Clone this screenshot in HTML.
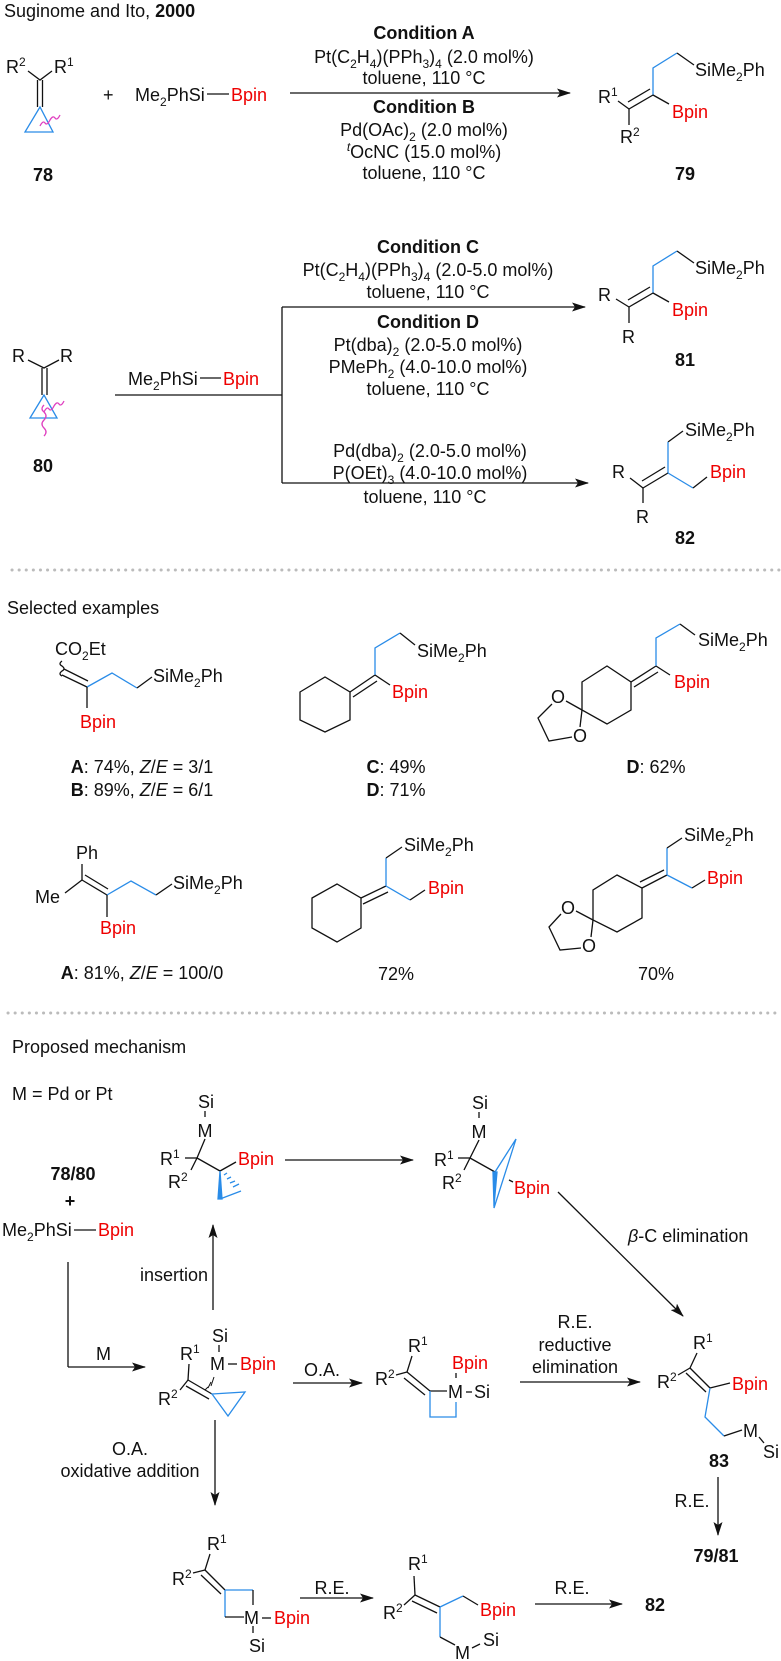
<!DOCTYPE html>
<html><head><meta charset="utf-8"><style>
html,body{margin:0;padding:0;background:#fff}
svg{display:block}
text{font-family:"Liberation Sans",Arial,sans-serif;font-size:18px;fill:#111}
.b{font-weight:bold}
.r{fill:#e00}
.c{text-anchor:middle}
.s{font-size:12px}
line,polyline,path,polygon{stroke:#111;stroke-width:1.3;fill:none}
.bl{stroke:#2a8ce8}
.pk{stroke:#e040c0}
.dot{stroke:#bbb;stroke-width:3;stroke-dasharray:0.1 7;stroke-linecap:round}
</style></head><body>
<svg width="781" height="1661" viewBox="0 0 781 1661" xmlns="http://www.w3.org/2000/svg">
<defs><marker id="a" markerWidth="14" markerHeight="9" refX="13" refY="4.5" orient="auto" markerUnits="userSpaceOnUse"><path d="M0,0 L14,4.5 L0,9 L3,4.5 Z" style="fill:#111;stroke:none"/></marker></defs>

<text x="4" y="17">Suginome and Ito, <tspan class="b">2000</tspan></text>

<!-- 78 -->
<text x="6" y="73">R<tspan class="s" dy="-7">2</tspan></text>
<text x="54" y="73">R<tspan class="s" dy="-7">1</tspan></text>
<polyline points="28,71 40,80 52,71"/>
<line x1="37.5" y1="80" x2="37.5" y2="107"/><line x1="42.5" y1="80" x2="42.5" y2="107"/>
<polygon class="bl" points="40,107 25,132 53,132"/>
<path class="pk" d="M40,126 q3,-6 5,-3 q2,3 5,-3 q3,-5 5,-2 q2,3 5,-3"/>
<text class="b c" x="43" y="181">78</text>
<text x="103" y="101">+</text>
<text x="135" y="101">Me<tspan class="s" dy="5">2</tspan><tspan dy="-5">PhSi</tspan></text>
<line x1="207" y1="94" x2="229" y2="94"/>
<text class="r" x="231" y="101">Bpin</text>
<line x1="290" y1="93" x2="570" y2="93" marker-end="url(#a)"/>
<text class="b c" x="424" y="39">Condition A</text>
<text class="c" x="424" y="63">Pt(C<tspan class="s" dy="5">2</tspan><tspan dy="-5">H</tspan><tspan class="s" dy="5">4</tspan><tspan dy="-5">)(PPh</tspan><tspan class="s" dy="5">3</tspan><tspan dy="-5">)</tspan><tspan class="s" dy="5">4</tspan><tspan dy="-5"> (2.0 mol%)</tspan></text>
<text class="c" x="424" y="84">toluene, 110 °C</text>
<text class="b c" x="424" y="113">Condition B</text>
<text class="c" x="424" y="136">Pd(OAc)<tspan class="s" dy="5">2</tspan><tspan dy="-5"> (2.0 mol%)</tspan></text>
<text class="c" x="424" y="158"><tspan class="s" dy="-7" font-style="italic">t</tspan><tspan dy="7">OcNC (15.0 mol%)</tspan></text>
<text class="c" x="424" y="179">toluene, 110 °C</text>

<!-- 79 -->
<polyline class="bl" points="653,95 653,68 677,53"/>
<line x1="677" y1="53" x2="694" y2="65"/>
<text x="695" y="76">SiMe<tspan class="s" dy="5">2</tspan><tspan dy="-5">Ph</tspan></text>
<line x1="653" y1="95" x2="629" y2="109"/><line x1="650" y1="89" x2="628" y2="102"/>
<text x="598" y="103">R<tspan class="s" dy="-7">1</tspan></text>
<line x1="618" y1="101" x2="629" y2="109"/>
<line x1="629" y1="109" x2="629" y2="125"/>
<text x="620" y="143">R<tspan class="s" dy="-7">2</tspan></text>
<line x1="653" y1="95" x2="669" y2="104"/>
<text class="r" x="672" y="118">Bpin</text>
<text class="b c" x="685" y="180">79</text>

<!-- 80 -->
<text x="12" y="362">R</text><text x="60" y="362">R</text>
<polyline points="28,360 44,368 59,360"/>
<line x1="42" y1="368" x2="42" y2="395"/><line x1="47" y1="368" x2="47" y2="395"/>
<polygon class="bl" points="44,395 30,418 57,418"/>
<path class="pk" d="M44,412 q3,-6 5,-3 q2,3 5,-3 q3,-5 5,-2 q2,3 5,-3"/>
<path class="pk" d="M44,405 q-4,4 0,7 q4,4 0,8 q-4,4 0,8 q4,4 0,8"/>
<text class="b c" x="43" y="472">80</text>
<text x="128" y="385">Me<tspan class="s" dy="5">2</tspan><tspan dy="-5">PhSi</tspan></text>
<line x1="200" y1="378" x2="221" y2="378"/>
<text class="r" x="223" y="385">Bpin</text>
<line x1="115" y1="395" x2="282" y2="395"/>
<line x1="282" y1="307" x2="282" y2="483"/>
<line x1="282" y1="307" x2="585" y2="307" marker-end="url(#a)"/>
<line x1="282" y1="483" x2="588" y2="483" marker-end="url(#a)"/>
<text class="b c" x="428" y="253">Condition C</text>
<text class="c" x="428" y="276">Pt(C<tspan class="s" dy="5">2</tspan><tspan dy="-5">H</tspan><tspan class="s" dy="5">4</tspan><tspan dy="-5">)(PPh</tspan><tspan class="s" dy="5">3</tspan><tspan dy="-5">)</tspan><tspan class="s" dy="5">4</tspan><tspan dy="-5"> (2.0-5.0 mol%)</tspan></text>
<text class="c" x="428" y="298">toluene, 110 °C</text>
<text class="b c" x="428" y="328">Condition D</text>
<text class="c" x="428" y="351">Pt(dba)<tspan class="s" dy="5">2</tspan><tspan dy="-5"> (2.0-5.0 mol%)</tspan></text>
<text class="c" x="428" y="373">PMePh<tspan class="s" dy="5">2</tspan><tspan dy="-5"> (4.0-10.0 mol%)</tspan></text>
<text class="c" x="428" y="395">toluene, 110 °C</text>
<text class="c" x="430" y="457">Pd(dba)<tspan class="s" dy="5">2</tspan><tspan dy="-5"> (2.0-5.0 mol%)</tspan></text>
<text class="c" x="430" y="479">P(OEt)<tspan class="s" dy="5">3</tspan><tspan dy="-5"> (4.0-10.0 mol%)</tspan></text>
<text class="c" x="425" y="503">toluene, 110 °C</text>

<!-- 81 -->
<polyline class="bl" points="653,293 653,266 677,251"/>
<line x1="677" y1="251" x2="694" y2="263"/>
<text x="695" y="274">SiMe<tspan class="s" dy="5">2</tspan><tspan dy="-5">Ph</tspan></text>
<line x1="653" y1="293" x2="629" y2="307"/><line x1="650" y1="287" x2="628" y2="300"/>
<text x="598" y="301">R</text>
<line x1="616" y1="299" x2="629" y2="307"/>
<line x1="629" y1="307" x2="629" y2="323"/>
<text x="622" y="343">R</text>
<line x1="653" y1="293" x2="669" y2="302"/>
<text class="r" x="672" y="316">Bpin</text>
<text class="b c" x="685" y="366">81</text>
<!-- 82 -->
<line x1="668" y1="442" x2="683" y2="431"/>
<text x="685" y="436">SiMe<tspan class="s" dy="5">2</tspan><tspan dy="-5">Ph</tspan></text>
<line class="bl" x1="668" y1="442" x2="668" y2="473"/>
<line x1="668" y1="473" x2="643" y2="488"/><line x1="665" y1="467" x2="642" y2="481"/>
<text x="612" y="478">R</text>
<line x1="630" y1="478" x2="643" y2="488"/>
<line x1="643" y1="488" x2="643" y2="503"/>
<text x="636" y="523">R</text>
<line class="bl" x1="668" y1="473" x2="693" y2="488"/>
<line x1="693" y1="488" x2="707" y2="477"/>
<text class="r" x="710" y="478">Bpin</text>
<text class="b c" x="685" y="544">82</text>

<line class="dot" x1="12" y1="570" x2="781" y2="570"/>
<text x="7" y="614">Selected examples</text>

<!-- Ex1 -->
<text x="55" y="655">CO<tspan class="s" dy="5">2</tspan><tspan dy="-5">Et</tspan></text>
<path d="M62,661 q-4,3 0,5 q4,3 0,5 q-4,3 0,5"/>
<line x1="62" y1="675" x2="87" y2="687"/><line x1="64" y1="669" x2="88" y2="681"/>
<polyline class="bl" points="87,687 112,673 137,688"/>
<line x1="137" y1="688" x2="152" y2="677"/>
<text x="153" y="682">SiMe<tspan class="s" dy="5">2</tspan><tspan dy="-5">Ph</tspan></text>
<line x1="87" y1="687" x2="87" y2="708"/>
<text class="r" x="80" y="728">Bpin</text>
<text class="c" x="142" y="773"><tspan class="b">A</tspan>: 74%, <tspan font-style="italic">Z</tspan>/<tspan font-style="italic">E</tspan> = 3/1</text>
<text class="c" x="142" y="796"><tspan class="b">B</tspan>: 89%, <tspan font-style="italic">Z</tspan>/<tspan font-style="italic">E</tspan> = 6/1</text>
<!-- Ex2 -->
<polygon points="300,692 325,677 350,692 350,720 325,732 300,720"/>
<line x1="350" y1="692" x2="375" y2="675"/><line x1="353" y1="697" x2="377" y2="681"/>
<polyline class="bl" points="375,675 375,648 400,633"/>
<line x1="400" y1="633" x2="415" y2="645"/>
<text x="417" y="657">SiMe<tspan class="s" dy="5">2</tspan><tspan dy="-5">Ph</tspan></text>
<line x1="375" y1="675" x2="390" y2="685"/>
<text class="r" x="392" y="698">Bpin</text>
<text class="c" x="396" y="773"><tspan class="b">C</tspan>: 49%</text>
<text class="c" x="396" y="796"><tspan class="b">D</tspan>: 71%</text>
<!-- Ex3 -->
<polygon points="582,682 607,666 631,682 631,710 607,724 582,710"/>
<line x1="631" y1="682" x2="656" y2="666"/><line x1="634" y1="687" x2="658" y2="672"/>
<polyline class="bl" points="656,666 656,638 680,624"/>
<line x1="680" y1="624" x2="695" y2="635"/>
<text x="698" y="646">SiMe<tspan class="s" dy="5">2</tspan><tspan dy="-5">Ph</tspan></text>
<line x1="656" y1="666" x2="670" y2="675"/>
<text class="r" x="674" y="688">Bpin</text>
<text x="551" y="703">O</text><text x="573" y="742">O</text>
<line x1="582" y1="710" x2="566" y2="701"/><line x1="582" y1="710" x2="580" y2="727"/>
<polyline points="552,704 538,718 549,741 572,737"/>
<text class="c" x="656" y="773"><tspan class="b">D</tspan>: 62%</text>

<!-- Ex4 -->
<text x="76" y="859">Ph</text>
<line x1="82" y1="864" x2="82" y2="880"/>
<text x="35" y="903">Me</text>
<line x1="65" y1="893" x2="82" y2="880"/>
<line x1="82" y1="880" x2="107" y2="895"/><line x1="85" y1="875" x2="108" y2="889"/>
<polyline class="bl" points="107,895 131,881 156,895"/>
<line x1="156" y1="895" x2="172" y2="884"/>
<text x="173" y="889">SiMe<tspan class="s" dy="5">2</tspan><tspan dy="-5">Ph</tspan></text>
<line x1="107" y1="895" x2="107" y2="917"/>
<text class="r" x="100" y="934">Bpin</text>
<text class="c" x="142" y="979"><tspan class="b">A</tspan>: 81%, <tspan font-style="italic">Z</tspan>/<tspan font-style="italic">E</tspan> = 100/0</text>
<!-- Ex5 -->
<polygon points="312,898 337,884 361,898 361,928 337,942 312,928"/>
<line x1="361" y1="898" x2="386" y2="886"/><line x1="363" y1="904" x2="388" y2="892"/>
<line class="bl" x1="386" y1="886" x2="386" y2="858"/>
<line x1="386" y1="858" x2="402" y2="847"/>
<text x="404" y="851">SiMe<tspan class="s" dy="5">2</tspan><tspan dy="-5">Ph</tspan></text>
<line class="bl" x1="386" y1="886" x2="410" y2="900"/>
<line x1="410" y1="900" x2="425" y2="890"/>
<text class="r" x="428" y="894">Bpin</text>
<text class="c" x="396" y="980">72%</text>
<!-- Ex6 -->
<polygon points="617,875 642,888 642,918 617,932 593,920 593,890"/>
<line x1="642" y1="888" x2="667" y2="875"/><line x1="640" y1="882" x2="664" y2="870"/>
<line class="bl" x1="667" y1="875" x2="667" y2="848"/>
<line x1="667" y1="848" x2="682" y2="838"/>
<text x="684" y="841">SiMe<tspan class="s" dy="5">2</tspan><tspan dy="-5">Ph</tspan></text>
<line class="bl" x1="667" y1="875" x2="692" y2="888"/>
<line x1="692" y1="888" x2="705" y2="880"/>
<text class="r" x="707" y="884">Bpin</text>
<text x="561" y="914">O</text><text x="582" y="952">O</text>
<line x1="593" y1="920" x2="576" y2="911"/><line x1="593" y1="920" x2="591" y2="937"/>
<polyline points="561,914 549,927 560,950 581,948"/>
<text class="c" x="656" y="980">70%</text>

<line class="dot" x1="8" y1="1013" x2="781" y2="1013"/>
<text x="12" y="1053">Proposed mechanism</text>
<text x="12" y="1100">M = Pd or Pt</text>

<!-- mechanism left -->
<text class="b c" x="73" y="1180">78/80</text>
<text class="b c" x="70" y="1207">+</text>
<text x="2" y="1236">Me<tspan class="s" dy="5">2</tspan><tspan dy="-5">PhSi</tspan></text>
<line x1="74" y1="1230" x2="96" y2="1230"/>
<text class="r" x="98" y="1236">Bpin</text>
<polyline points="68,1262 68,1367"/>
<line x1="68" y1="1367" x2="145" y2="1367" marker-end="url(#a)"/>
<text x="96" y="1360">M</text>
<line x1="213" y1="1310" x2="213" y2="1225" marker-end="url(#a)"/>
<text x="208" y="1281" text-anchor="end">insertion</text>

<!-- top struct 1 -->
<text class="c" x="206" y="1108">Si</text>
<line x1="205" y1="1111" x2="205" y2="1117"/>
<text class="c" x="205" y="1137">M</text>
<line x1="205" y1="1139" x2="197" y2="1158"/>
<text x="160" y="1165">R<tspan class="s" dy="-7">1</tspan></text>
<line x1="185" y1="1158" x2="197" y2="1158"/>
<text x="168" y="1188">R<tspan class="s" dy="-7">2</tspan></text>
<line x1="191" y1="1170" x2="197" y2="1158"/>
<line x1="197" y1="1158" x2="220" y2="1171"/>
<line x1="220" y1="1171" x2="236" y2="1162"/>
<text class="r" x="238" y="1165">Bpin</text>
<polygon class="bl" points="220,1171 222,1199 218,1199" style="fill:#2a8ce8"/>
<line class="bl" x1="220" y1="1199" x2="241" y2="1191"/>
<path class="bl" d="M224,1175 l3,-2 M227,1179 l4,-2 M230,1183 l5,-2 M233,1187 l6,-3"/>
<line x1="285" y1="1160" x2="413" y2="1160" marker-end="url(#a)"/>

<!-- top struct 2 -->
<text class="c" x="480" y="1109">Si</text>
<line x1="479" y1="1112" x2="479" y2="1118"/>
<text class="c" x="479" y="1138">M</text>
<line x1="479" y1="1140" x2="470" y2="1158"/>
<text x="434" y="1166">R<tspan class="s" dy="-7">1</tspan></text>
<line x1="458" y1="1158" x2="470" y2="1158"/>
<text x="442" y="1189">R<tspan class="s" dy="-7">2</tspan></text>
<line x1="464" y1="1170" x2="470" y2="1158"/>
<line x1="470" y1="1158" x2="495" y2="1172"/>
<polygon class="bl" points="495,1172 516,1139 494,1208"/>
<polygon class="bl" points="493,1172 497,1172 494,1206" style="fill:#2a8ce8"/>
<line x1="509" y1="1180" x2="513" y2="1182"/>
<text class="r" x="514" y="1194">Bpin</text>
<line x1="558" y1="1192" x2="683" y2="1316" marker-end="url(#a)"/>
<text x="628" y="1242"><tspan font-style="italic">β</tspan>-C elimination</text>

<!-- middle struct -->
<text class="c" x="220" y="1342">Si</text>
<line x1="219" y1="1345" x2="219" y2="1352"/>
<text x="210" y="1370">M</text>
<line x1="228" y1="1364" x2="237" y2="1364"/>
<text class="r" x="240" y="1370">Bpin</text>
<text x="180" y="1360">R<tspan class="s" dy="-7">1</tspan></text>
<line x1="189" y1="1364" x2="188" y2="1380"/>
<text x="158" y="1405">R<tspan class="s" dy="-7">2</tspan></text>
<line x1="180" y1="1390" x2="188" y2="1380"/>
<line x1="188" y1="1380" x2="212" y2="1394"/><line x1="186" y1="1386" x2="209" y2="1399"/>
<path d="M205,1390 l3,-3 M208,1388 l3,-6 M211,1386 l3,-9" style="stroke-width:1"/>
<polygon class="bl" points="212,1394 245,1392 228,1416"/>
<line x1="293" y1="1383" x2="362" y2="1383" marker-end="url(#a)"/>
<text class="c" x="322" y="1376">O.A.</text>
<line x1="215" y1="1420" x2="215" y2="1505" marker-end="url(#a)"/>
<text class="c" x="130" y="1455">O.A.</text>
<text class="c" x="130" y="1477">oxidative addition</text>

<!-- azetidine -->
<text x="408" y="1352">R<tspan class="s" dy="-7">1</tspan></text>
<line x1="412" y1="1356" x2="407" y2="1372"/>
<text x="375" y="1385">R<tspan class="s" dy="-7">2</tspan></text>
<line x1="396" y1="1375" x2="407" y2="1372"/>
<line x1="407" y1="1372" x2="430" y2="1391"/><line x1="404" y1="1378" x2="425" y2="1395"/>
<text class="r" x="452" y="1369">Bpin</text>
<line x1="456" y1="1373" x2="456" y2="1378"/>
<text x="448" y="1398">M</text>
<line x1="466" y1="1392" x2="472" y2="1392"/>
<text x="474" y="1398">Si</text>
<line x1="430" y1="1391" x2="447" y2="1391"/>
<polyline class="bl" points="430,1391 430,1417 456,1417 456,1402"/>
<line x1="520" y1="1382" x2="640" y2="1382" marker-end="url(#a)"/>
<text class="c" x="575" y="1328">R.E.</text>
<text class="c" x="575" y="1351">reductive</text>
<text class="c" x="575" y="1373">elimination</text>

<!-- 83 -->
<text x="693" y="1349">R<tspan class="s" dy="-7">1</tspan></text>
<line x1="697" y1="1353" x2="690" y2="1368"/>
<text x="657" y="1388">R<tspan class="s" dy="-7">2</tspan></text>
<line x1="678" y1="1375" x2="690" y2="1368"/>
<line x1="690" y1="1368" x2="710" y2="1388"/><line x1="686" y1="1373" x2="706" y2="1392"/>
<line x1="710" y1="1388" x2="730" y2="1383"/>
<text class="r" x="732" y="1390">Bpin</text>
<polyline class="bl" points="710,1388 705,1417 724,1436"/>
<line x1="724" y1="1436" x2="742" y2="1430"/>
<text x="743" y="1437">M</text>
<line x1="759" y1="1437" x2="764" y2="1443"/>
<text x="763" y="1458">Si</text>
<text class="b c" x="719" y="1467">83</text>
<line x1="718" y1="1477" x2="718" y2="1535" marker-end="url(#a)"/>
<text class="c" x="692" y="1507">R.E.</text>
<text class="b c" x="716" y="1562">79/81</text>

<!-- bottom 1 -->
<text x="207" y="1550">R<tspan class="s" dy="-7">1</tspan></text>
<line x1="210" y1="1554" x2="205" y2="1570"/>
<text x="172" y="1585">R<tspan class="s" dy="-7">2</tspan></text>
<line x1="193" y1="1573" x2="205" y2="1570"/>
<line x1="205" y1="1570" x2="225" y2="1590"/><line x1="201" y1="1575" x2="221" y2="1594"/>
<polyline class="bl" points="225,1590 253,1590"/>
<line x1="253" y1="1590" x2="253" y2="1605"/>
<polyline class="bl" points="225,1590 225,1617"/>
<line x1="225" y1="1617" x2="244" y2="1617"/>
<text x="244" y="1624">M</text>
<line x1="262" y1="1618" x2="271" y2="1618"/>
<text class="r" x="274" y="1624">Bpin</text>
<line x1="253" y1="1626" x2="253" y2="1633"/>
<text class="c" x="257" y="1652">Si</text>
<line x1="300" y1="1598" x2="373" y2="1598" marker-end="url(#a)"/>
<text class="c" x="332" y="1594">R.E.</text>

<!-- bottom 2 -->
<text x="408" y="1570">R<tspan class="s" dy="-7">1</tspan></text>
<line x1="414" y1="1576" x2="415" y2="1595"/>
<text x="383" y="1619">R<tspan class="s" dy="-7">2</tspan></text>
<line x1="404" y1="1605" x2="415" y2="1595"/>
<line x1="415" y1="1595" x2="440" y2="1607"/><line x1="412" y1="1601" x2="437" y2="1613"/>
<line class="bl" x1="440" y1="1607" x2="463" y2="1596"/>
<line x1="463" y1="1596" x2="478" y2="1605"/>
<text class="r" x="480" y="1616">Bpin</text>
<line class="bl" x1="440" y1="1607" x2="440" y2="1637"/>
<line x1="440" y1="1637" x2="455" y2="1645"/>
<text x="455" y="1659">M</text>
<line x1="472" y1="1648" x2="480" y2="1644"/>
<text x="483" y="1646">Si</text>
<line x1="535" y1="1604" x2="622" y2="1604" marker-end="url(#a)"/>
<text class="c" x="572" y="1594">R.E.</text>
<text class="b c" x="655" y="1611">82</text>
</svg>
</body></html>
